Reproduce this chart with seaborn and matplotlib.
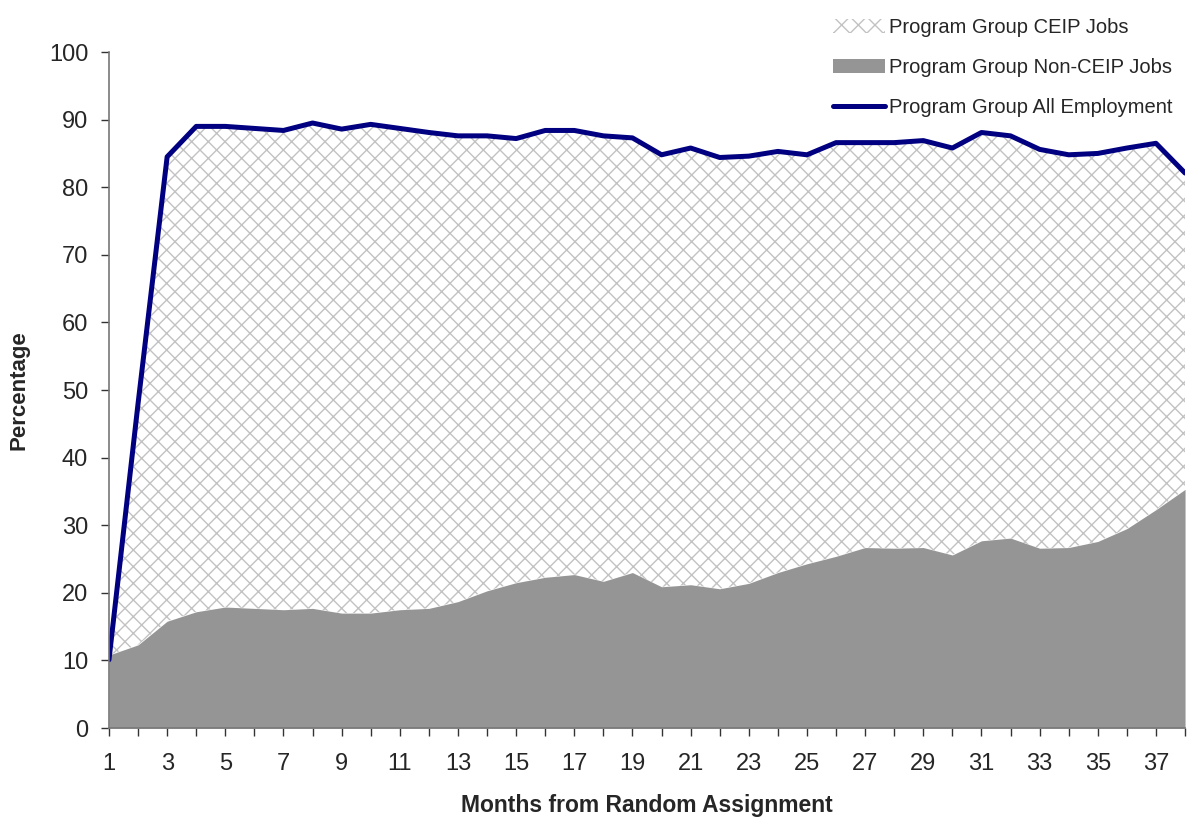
import numpy as np
import pandas as pd
import matplotlib
matplotlib.use("Agg")
import matplotlib.pyplot as plt
import seaborn as sns
from matplotlib.patches import Patch
from matplotlib.lines import Line2D

# data
months = list(range(1, 39))
all_employment = [10.1, 48.0, 84.5, 89.0, 89.0, 88.7, 88.4, 89.5, 88.6, 89.3,
                  88.7, 88.1, 87.6, 87.6, 87.2, 88.4, 88.4, 87.6, 87.3, 84.8,
                  85.8, 84.4, 84.6, 85.3, 84.8, 86.6, 86.6, 86.6, 86.9, 85.8,
                  88.1, 87.6, 85.6, 84.8, 85.0, 85.8, 86.5, 82.1]
non_ceip = [10.8, 12.3, 15.8, 17.2, 17.9, 17.7, 17.5, 17.7, 17.0, 17.0,
            17.5, 17.7, 18.7, 20.3, 21.5, 22.3, 22.7, 21.7, 23.0, 20.9,
            21.2, 20.6, 21.4, 23.0, 24.3, 25.4, 26.7, 26.6, 26.7, 25.6,
            27.7, 28.1, 26.6, 26.7, 27.6, 29.5, 32.3, 35.3]

df = pd.DataFrame({"month": months, "all": all_employment, "non": non_ceip})

sns.set_style("white")
plt.rcParams['font.family'] = ['Liberation Sans', 'DejaVu Sans']
plt.rcParams['hatch.color'] = '#c2c2c2'
plt.rcParams['hatch.linewidth'] = 1.0

fig = plt.figure(figsize=(11.91, 8.26), dpi=100)
ax = fig.add_axes([0.0915, 0.1186, 0.9035, 0.8184])

# CEIP jobs: hatched band between non-CEIP and all employment
ax.fill_between(df["month"], df["non"], df["all"], facecolor='white',
                edgecolor='#c2c2c2', hatch='xx', linewidth=0)
# non-CEIP jobs: solid gray
ax.fill_between(df["month"], 0, df["non"], facecolor='#959595', linewidth=0)
sns.lineplot(data=df, x="month", y="all", color='#000080', linewidth=3.6,
             ax=ax, legend=False)

ax.set_xlim(1, 38)
ax.set_ylim(0, 100)
ax.set_yticks(range(0, 101, 10))
ax.set_xticks(months)
ax.set_xticklabels([str(m) if m % 2 == 1 else '' for m in months])
ax.tick_params(axis='both', labelsize=17, direction='out', length=6,
               width=1, color='#333333', bottom=True, left=True)
ax.tick_params(axis='y', pad=9)
ax.tick_params(axis='x', pad=12)

for side in ['top', 'right']:
    ax.spines[side].set_visible(False)
for side in ['left', 'bottom']:
    ax.spines[side].set_color('#777777')
    ax.spines[side].set_linewidth(1.2)

ax.set_xlabel('Months from Random Assignment', fontsize=16.5, fontweight='bold',
              labelpad=14)
ax.set_ylabel('Percentage', fontsize=16, fontweight='bold', labelpad=14)

handles = [
    Patch(facecolor='white', edgecolor='#c2c2c2', hatch='xx', linewidth=0,
          label='Program Group CEIP Jobs'),
    Patch(facecolor='#959595', linewidth=0, label='Program Group Non-CEIP Jobs'),
    Line2D([0], [0], color='#000080', linewidth=3.6,
           label='Program Group All Employment'),
]
fig.legend(handles=handles, loc='upper right', bbox_to_anchor=(1.0, 1.0),
           frameon=False, fontsize=14.5, handlelength=2.6, handletextpad=0.2,
           labelspacing=1.05)

plt.savefig("out.png", dpi=100)
